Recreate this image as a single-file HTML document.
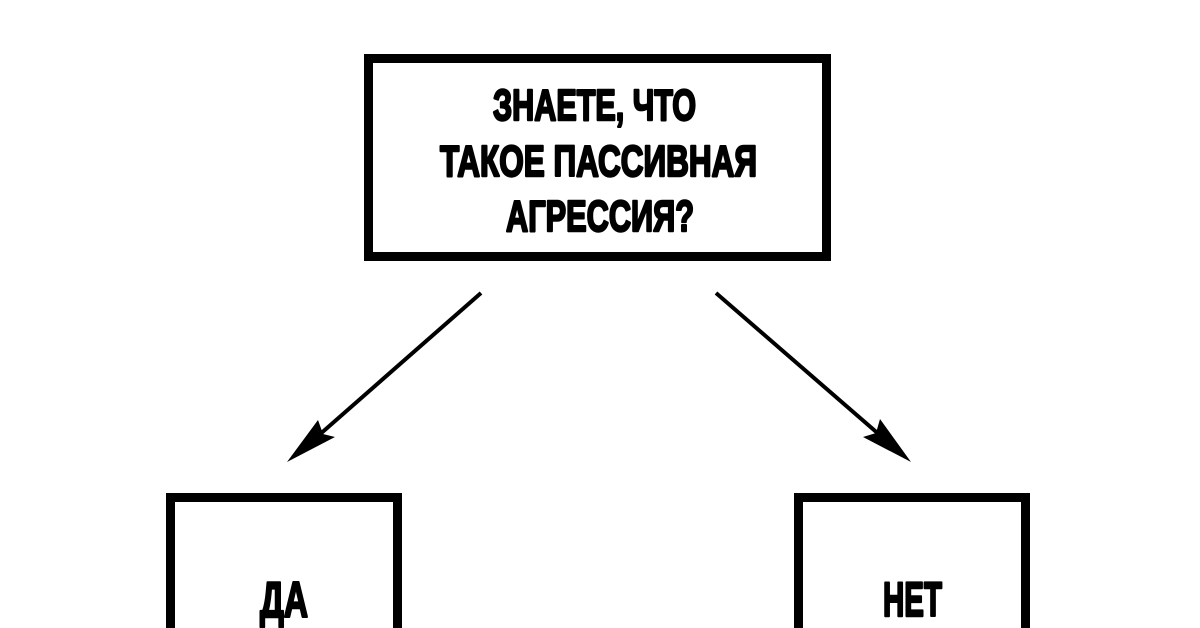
<!DOCTYPE html>
<html><head><meta charset="utf-8"><style>html,body{margin:0;padding:0;background:#fff;width:1200px;height:628px;overflow:hidden}svg{display:block}</style></head>
<body>
<svg width="1200" height="628" viewBox="0 0 1200 628" xmlns="http://www.w3.org/2000/svg">
<rect x="368.5" y="58.5" width="458" height="198" fill="none" stroke="#000" stroke-width="9"/>
<g font-family="'Liberation Sans Narrow','Liberation Sans',sans-serif" font-weight="bold" font-size="44" fill="#000" stroke="#000" stroke-width="2.4" stroke-linejoin="round">
<text x="493" y="120" textLength="203" lengthAdjust="spacingAndGlyphs">ЗНАЕТЕ, ЧТО</text>
<text x="440" y="176" textLength="317" lengthAdjust="spacingAndGlyphs">ТАКОЕ ПАССИВНАЯ</text>
<text x="506" y="231" textLength="188" lengthAdjust="spacingAndGlyphs">АГРЕССИЯ?</text>
<text x="260" y="617" font-size="50" textLength="48" lengthAdjust="spacingAndGlyphs">ДА</text>
<text x="883" y="616" font-size="48" textLength="59" lengthAdjust="spacingAndGlyphs">НЕТ</text>
</g>
<path d="M170.5 628 V497.5 H397.5 V628" fill="none" stroke="#000" stroke-width="9"/>
<path d="M798.5 628 V497.5 H1025.5 V628" fill="none" stroke="#000" stroke-width="9"/>
<line x1="481" y1="293" x2="310" y2="443" stroke="#000" stroke-width="4"/>
<polygon points="287,462 318,420 323,434 335,437" fill="#000"/>
<line x1="716" y1="293" x2="889" y2="443" stroke="#000" stroke-width="4"/>
<polygon points="911,462 880,419 876,433 863,437" fill="#000"/>
</svg>
</body></html>
